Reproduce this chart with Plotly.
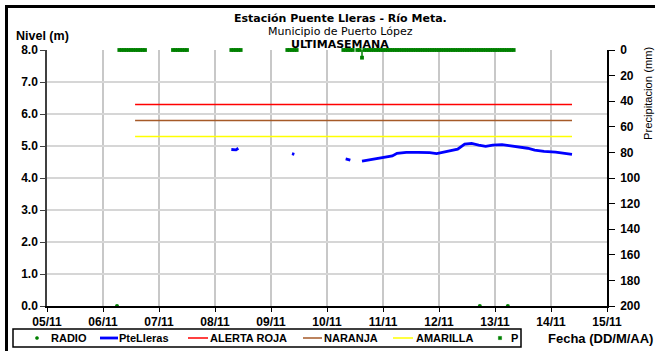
import pandas as pd
import plotly.graph_objects as go

# ---- water level readings, station Puente Lleras (m); None breaks the line ----
level_times = [
    "2012-11-08 07:00", "2012-11-08 08:00", "2012-11-08 09:00", "2012-11-08 10:00",
    "2012-11-08 11:00",
    "2012-11-09 09:00", "2012-11-09 10:00",
    "2012-11-09 11:00",
    "2012-11-10 08:00", "2012-11-10 09:00", "2012-11-10 10:00",
    "2012-11-10 11:00",
    "2012-11-10 15:00", "2012-11-10 20:00", "2012-11-11 00:00", "2012-11-11 04:00",
    "2012-11-11 06:00", "2012-11-11 10:00", "2012-11-11 15:00", "2012-11-11 20:00",
    "2012-11-11 23:00", "2012-11-12 02:00", "2012-11-12 05:00", "2012-11-12 08:00",
    "2012-11-12 11:00", "2012-11-12 14:00", "2012-11-12 17:00", "2012-11-12 20:00",
    "2012-11-12 23:00", "2012-11-13 01:00", "2012-11-13 03:00", "2012-11-13 06:00",
    "2012-11-13 10:00", "2012-11-13 14:00", "2012-11-13 17:00", "2012-11-13 21:00",
    "2012-11-14 02:00", "2012-11-14 05:00", "2012-11-14 09:00",
]
level_values = [
    4.89, 4.88, 4.88, 4.93,
    None,
    4.76, 4.74,
    None,
    4.60, 4.58, 4.56,
    None,
    4.53, 4.59, 4.63, 4.69,
    4.77, 4.80, 4.80, 4.79,
    4.76, 4.81, 4.85, 4.90,
    5.06, 5.08, 5.03, 4.99,
    5.03, 5.03, 5.04, 5.01,
    4.98, 4.93, 4.87, 4.83,
    4.81, 4.77, 4.74,
]

# ---- alert thresholds (m) ----
alert_times = ["2012-11-06 13:45", "2012-11-14 09:00"]
alert_red = 6.3
alert_orange = 5.8
alert_yellow = 5.3

# ---- radio reports (m) ----
radio_times = ["2012-11-06 06:00", "2012-11-12 17:30", "2012-11-13 05:30"]
radio_values = [0.0, 0.0, 0.0]

# ---- hourly precipitation records (mm): recorded periods and non-zero readings ----
precip_spans = [
    ("2012-11-06 07:00", "2012-11-06 18:00"),
    ("2012-11-07 06:00", "2012-11-07 12:00"),
    ("2012-11-08 07:00", "2012-11-08 11:00"),
    ("2012-11-09 07:00", "2012-11-09 11:00"),
    ("2012-11-10 07:00", "2012-11-10 11:00"),
    ("2012-11-10 13:00", "2012-11-13 08:00"),
]
precip_events = {"2012-11-10 15:00": 6.0}

x_ticks = ["2012-11-%02d" % d for d in range(5, 16)]
x_ticktext = ["%02d/11" % d for d in range(5, 16)]

title_lines = ["<b>Estación Puente Lleras - Río Meta.</b>",
               "Municipio de Puerto López",
               "<b>ULTIMASEMANA</b>"]

# build the hourly precipitation table
p_times, p_values = [], []
for start, end in precip_spans:
    for t in pd.date_range(start, end, freq="h"):
        key = t.strftime("%Y-%m-%d %H:%M")
        p_times.append(key)
        p_values.append(precip_events.get(key, 0.0))
p_err_minus = list(p_values)  # stem drawn from the reading back to 0

FONT = "Liberation Sans, Arial, sans-serif"
TITLE_FONT = "DejaVu Sans, Liberation Sans, sans-serif"
GREEN = "#008000"
BLUE = "#0000FF"
RED = "#FF0000"
BROWN = "#A65A28"
YELLOW = "#FFFF00"

# plot area in pixels (used to place the legend box and labels around it)
L, R, T, B, W, H = 47, 48, 50, 45, 655, 351
PW, PH = W - L - R, H - T - B


def px(x):
    return (x - L) / PW


def py(y):
    return (H - B - y) / PH


fig = go.Figure()

fig.add_trace(go.Scatter(
    x=radio_times, y=radio_values, name="RADIO", mode="markers",
    marker=dict(color=GREEN, size=4, symbol="circle"), cliponaxis=False))

fig.add_trace(go.Scatter(
    x=level_times, y=level_values, name="PteLleras", mode="lines",
    line=dict(color=BLUE, width=2.8), connectgaps=False))

fig.add_trace(go.Scatter(
    x=alert_times, y=[alert_red] * 2, name="ALERTA ROJA", mode="lines",
    line=dict(color=RED, width=1.5)))
fig.add_trace(go.Scatter(
    x=alert_times, y=[alert_orange] * 2, name="NARANJA", mode="lines",
    line=dict(color=BROWN, width=1.5)))
fig.add_trace(go.Scatter(
    x=alert_times, y=[alert_yellow] * 2, name="AMARILLA", mode="lines",
    line=dict(color=YELLOW, width=1.5)))

fig.add_trace(go.Scatter(
    x=p_times, y=p_values, name="P", mode="markers", yaxis="y2",
    marker=dict(color=GREEN, size=3.8, symbol="square"), cliponaxis=False,
    error_y=dict(type="data", symmetric=False, array=[0] * len(p_values),
                 arrayminus=p_err_minus, color=GREEN, thickness=1.5, width=0)))

tick_font = dict(family=FONT, size=12, color="black", weight="bold")

fig.update_layout(
    width=W, height=H,
    margin=dict(l=L, r=R, t=T, b=B),
    paper_bgcolor="white", plot_bgcolor="white",
    font=dict(family=FONT, size=11, color="black"),
    showlegend=False,
    xaxis=dict(
        type="date", range=["2012-11-05", "2012-11-15"],
        tickvals=x_ticks, ticktext=x_ticktext, tickfont=tick_font,
        showgrid=True, gridcolor="#C8C8C8", gridwidth=1.6,
        showline=True, linecolor="black", linewidth=1.5,
        ticks="outside", ticklen=4, tickcolor="black", zeroline=False,
    ),
    yaxis=dict(
        range=[0, 8], dtick=1, tickformat=".1f", tickfont=tick_font,
        showgrid=True, gridcolor="#D6D6D6", gridwidth=1.8,
        showline=True, linecolor="#404040", linewidth=1.5,
        ticks="outside", ticklen=5, tickcolor="#404040", zeroline=False,
    ),
    yaxis2=dict(
        overlaying="y", side="right", range=[200, 0], dtick=20,
        tickfont=tick_font, showgrid=False,
        showline=True, linecolor="black", linewidth=1.5,
        ticks="outside", ticklen=6, tickcolor="black", zeroline=False,
        ticklabelstandoff=3,
    ),
)

annotations = [
    dict(text=title_lines[0], x=px(340), y=py(18), font=dict(size=11, family=TITLE_FONT)),
    dict(text=title_lines[1], x=px(340), y=py(31), font=dict(size=11, family=TITLE_FONT)),
    dict(text=title_lines[2], x=px(340), y=py(44), font=dict(size=11, family=TITLE_FONT)),
    dict(text="<b>Nivel (m)</b>", x=px(15), y=py(35.5), xanchor="left",
         font=dict(size=12.5)),
    dict(text="Precipitacion (mm)", x=px(648), y=py(93), textangle=-90,
         font=dict(size=11.2)),
    dict(text="<b>Fecha (DD/M/AA)</b>", x=px(654), y=py(338), xanchor="right",
         font=dict(size=13)),
]

# legend box drawn below the axis: (kind, colour, symbol x-range, text, text x)
LEG_Y = 338
legend_items = [
    ("circle", GREEN, (37, 37), "RADIO", 50),
    ("line", BLUE, (100, 118), "PteLleras", 118),
    ("line", RED, (188, 208), "ALERTA ROJA", 209),
    ("line", BROWN, (303, 322), "NARANJA", 323),
    ("line", YELLOW, (393, 413), "AMARILLA", 415),
    ("square", GREEN, (500, 500), "P", 510),
]
shapes = [dict(type="rect", xref="paper", yref="paper",
               x0=px(13), x1=px(521), y0=py(347), y1=py(329),
               line=dict(color="black", width=1.5), fillcolor="white",
               layer="above")]
for kind, color, (sx0, sx1), label, tx in legend_items:
    if kind == "line":
        width = 2.8 if color == BLUE else 1.5
        shapes.append(dict(type="line", xref="paper", yref="paper",
                           x0=px(sx0), x1=px(sx1), y0=py(LEG_Y), y1=py(LEG_Y),
                           line=dict(color=color, width=width), layer="above"))
    else:
        r = 1.6
        shapes.append(dict(type="circle" if kind == "circle" else "rect",
                           xref="paper", yref="paper",
                           x0=px(sx0 - r), x1=px(sx0 + r),
                           y0=py(LEG_Y + r), y1=py(LEG_Y - r),
                           line=dict(color=color, width=0.5), fillcolor=color,
                           layer="above"))
    annotations.append(dict(text="<b>%s</b>" % label, x=px(tx), y=py(LEG_Y),
                            xanchor="left", font=dict(size=11)))

for a in annotations:
    a.setdefault("xanchor", "center")
    a.update(xref="paper", yref="paper", yanchor="middle", showarrow=False,
             borderpad=0)
    a["font"].update(color="black")
    a["font"].setdefault("family", FONT)

# outer frame of the chart
shapes.append(dict(type="rect", xref="paper", yref="paper",
                   x0=px(6.5), x1=px(700), y0=py(400), y1=py(6.5),
                   line=dict(color="black", width=3), layer="above"))

fig.update_layout(annotations=annotations, shapes=shapes)

fig.write_html("out.html")
